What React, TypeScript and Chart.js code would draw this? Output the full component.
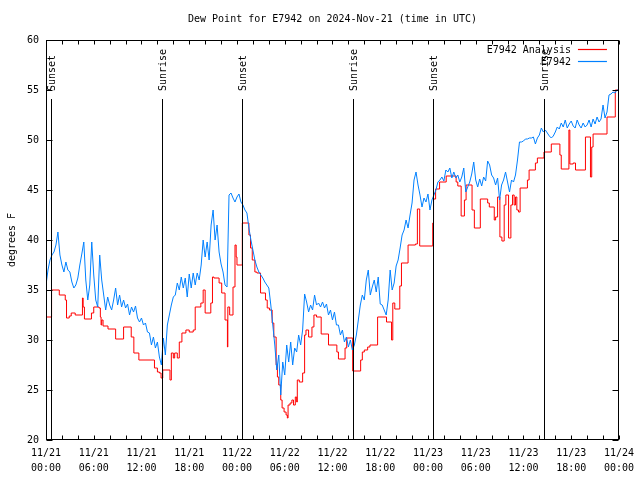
import React, { useEffect, useRef } from 'react';
import { Chart, registerables } from 'chart.js';

Chart.register(...registerables);

const TITLE = 'Dew Point for E7942 on 2024-Nov-21 (time in UTC)';
const Y_TITLE = 'degrees F';
const SERIES_NAMES = ['E7942 Analysis', 'E7942'];
const SERIES_COLORS = ['#ff0000', '#0080ff'];
const DAY_LABELS = ['11/21', '11/22', '11/23', '11/24'];
const HOUR_LABELS = ['00:00', '06:00', '12:00', '18:00'];
const X_MIN_H = 0;
const X_MAX_H = 72;
const X_TICK_STEP_H = 2;
const X_LABEL_STEP_H = 6;
const Y_MIN = 20;
const Y_MAX = 60;
const Y_STEP = 5;

// sunrise / sunset markers (hours since 11/21 00:00 UTC)
const EVENT_HOURS = [0.65, 14.52, 24.67, 38.54, 48.68, 62.52];
const EVENT_LABELS = ['Sunset', 'Sunrise', 'Sunset', 'Sunrise', 'Sunset', 'Sunrise'];

// analysis series: [hour, value] step points (value holds until next point)
const ANALYSIS_STEPS: [number, number][] = [
  [0, 32.3], [0.7, 35.0], [1.67, 34.5], [2.42, 34.0], [2.58, 32.2], [2.92, 32.4], [3.17, 32.7], [3.67, 32.5],
  [4.58, 34.2], [4.67, 33.3], [4.83, 32.1], [5.71, 32.7], [6.0, 33.3], [6.67, 33.2], [6.83, 32.3], [6.92, 31.5],
  [7.0, 32.0], [7.17, 31.4], [7.79, 31.1], [8.75, 30.1], [9.75, 31.3], [10.71, 30.3], [11.04, 28.7], [11.67, 28.0],
  [13.63, 27.2], [14.0, 26.8], [14.25, 26.7], [14.46, 26.2], [14.67, 27.0], [15.58, 26.0], [15.75, 28.7], [16.0, 28.2],
  [16.17, 28.7], [16.5, 28.2], [16.75, 29.8], [17.08, 30.7], [17.58, 31.0], [18.0, 30.8], [18.5, 31.0], [18.75, 33.3],
  [19.46, 33.7], [19.75, 35.0], [20.0, 32.7], [20.71, 33.7], [20.92, 36.3], [21.1, 36.2], [21.75, 35.7], [22.08, 34.7],
  [22.5, 32.0], [22.8, 29.3], [22.85, 33.3], [23.08, 32.5], [23.5, 35.3], [23.75, 39.5], [23.9, 38.3], [24.0, 37.5],
  [24.67, 41.7], [25.5, 40.5], [25.7, 39.2], [25.92, 38.0], [26.25, 36.8], [26.5, 36.7], [26.96, 34.7], [27.58, 34.0],
  [27.8, 33.2], [28.08, 33.0], [28.42, 31.7], [28.63, 30.3], [28.92, 27.5], [29.08, 26.3], [29.25, 25.5], [29.5, 24.0],
  [29.67, 23.2], [29.92, 22.8], [30.17, 22.5], [30.33, 22.2], [30.42, 23.5], [30.67, 23.7], [30.9, 24.0], [31.1, 23.5],
  [31.33, 24.3], [31.5, 23.8], [31.58, 26.0], [31.83, 25.8], [32.25, 26.7], [32.5, 30.5], [32.67, 31.0], [33.0, 30.3],
  [33.42, 31.3], [33.67, 32.5], [34.0, 32.3], [34.58, 30.6], [35.5, 29.5], [36.55, 28.8], [36.75, 28.1], [37.58, 29.2],
  [37.79, 30.2], [38.54, 26.9], [39.54, 28.0], [39.75, 28.8], [40.0, 29.0], [40.42, 29.3], [40.71, 29.5], [41.67, 32.3],
  [42.79, 31.8], [43.42, 30.0], [43.58, 33.7], [43.83, 33.1], [44.46, 35.4], [44.67, 37.7], [45.5, 39.5], [46.42, 39.6],
  [46.67, 43.1], [46.96, 39.4], [48.6, 41.7], [48.7, 44.1], [48.96, 45.1], [49.46, 45.8], [50.29, 46.4], [51.54, 45.8],
  [51.75, 45.4], [52.17, 42.4], [52.58, 44.0], [52.79, 45.5], [53.54, 43.0], [53.83, 41.2], [54.58, 44.1], [55.5, 43.7],
  [55.71, 43.3], [56.33, 42.0], [56.5, 42.3], [56.75, 44.3], [57.04, 40.3], [57.29, 39.9], [57.58, 43.5], [57.79, 44.5],
  [58.13, 40.2], [58.42, 43.5], [58.63, 44.5], [58.83, 43.5], [59.0, 44.3], [59.17, 43.0], [59.38, 42.8], [59.58, 45.2],
  [60.5, 46.0], [60.71, 47.0], [61.5, 47.7], [61.75, 48.2], [62.58, 48.8], [63.5, 49.6], [64.58, 48.5], [64.75, 47.1],
  [65.71, 51.0], [65.83, 47.6], [66.25, 47.7], [66.54, 47.0], [67.79, 50.3], [68.42, 46.3], [68.58, 49.3], [68.75, 50.6],
  [70.5, 52.3], [71.54, 55.0], [72, 55.0],
];

// observed series: one value every 15 minutes from 11/21 00:00 (4 per row = 1 hour)
const OBS_STEP_H = 0.25;
const OBS_VALUES = [
  35.5, 37.0, 38.0, 38.5, // 0
  38.8, 39.5, 40.8, 38.5,
  37.5, 36.8, 37.8, 37.0,
  36.8, 35.8, 35.2, 35.5,
  36.2, 37.5, 38.6, 39.8,
  36.0, 34.0, 35.5, 39.8,
  36.5, 34.0, 33.3, 38.5, // 6
  36.0, 34.5, 33.0, 34.3,
  33.5, 33.0, 34.0, 35.2,
  33.5, 34.5, 33.3, 34.0,
  33.2, 33.6, 32.5, 33.3,
  32.8, 33.4, 32.2, 31.8,
  32.2, 31.5, 31.7, 30.8, // 12
  30.7, 29.5, 30.3, 29.2,
  29.8, 28.3, 27.5, 30.2,
  28.5, 31.5, 32.5, 33.5,
  34.3, 34.5, 35.7, 35.0,
  36.3, 35.2, 36.2, 34.3,
  36.6, 35.2, 36.7, 35.5, // 18
  36.7, 36.0, 37.5, 40.0,
  38.3, 39.8, 38.0, 41.5,
  43.0, 40.0, 41.5, 38.8,
  37.6, 36.8, 35.5, 35.3,
  44.5, 44.7, 44.2, 43.8,
  44.3, 44.6, 43.8, 43.5, // 24
  43.0, 42.7, 41.2, 40.0,
  39.0, 38.0, 37.3, 36.8,
  36.5, 36.2, 35.8, 35.5,
  35.2, 33.5, 31.5, 29.5,
  27.0, 28.5, 24.5, 27.8,
  26.5, 29.5, 27.8, 29.8, // 30
  27.5, 29.2, 28.8, 30.5,
  29.5, 31.0, 34.6, 33.8,
  32.8, 33.5, 33.0, 34.5,
  33.5, 33.7, 33.3, 33.8,
  33.2, 33.6, 32.5, 33.0,
  32.0, 32.8, 31.5, 31.5, // 36
  30.5, 31.0, 29.8, 30.3,
  29.3, 30.0, 29.0, 29.5,
  30.5, 32.0, 33.5, 34.5,
  34.0, 36.0, 37.0, 34.5,
  35.3, 36.0, 34.8, 36.3,
  33.6, 33.5, 33.0, 32.5, // 42
  34.0, 37.0, 35.0, 35.7,
  37.4, 38.0, 39.2, 40.5,
  41.0, 42.0, 41.2, 42.5,
  43.7, 46.0, 46.8, 45.5,
  44.5, 43.3, 44.2, 43.8,
  44.6, 43.0, 44.0, 44.5, // 48
  45.0, 45.8, 46.0, 46.3,
  45.9, 47.0, 46.8, 47.2,
  46.2, 46.8, 46.2, 46.5,
  45.8, 46.3, 47.2, 44.8,
  45.3, 45.8, 46.6, 47.8,
  46.0, 45.3, 46.1, 45.4, // 54
  46.3, 45.9, 47.9, 47.5,
  46.5, 46.2, 45.5, 46.2,
  44.0, 45.5, 46.0, 46.8,
  45.8, 44.8, 46.0, 45.8,
  46.5, 48.0, 49.8, 49.8,
  49.9, 50.1, 50.1, 50.2, // 60
  50.2, 50.3, 49.6, 50.2,
  50.5, 51.2, 50.8, 51.0,
  50.7, 50.4, 50.2, 50.4,
  50.8, 51.3, 51.1, 51.7,
  51.3, 52.0, 51.2, 51.6,
  51.9, 51.4, 51.2, 52.0, // 66
  51.5, 51.2, 51.7, 51.3,
  51.5, 52.0, 51.3, 52.1,
  51.6, 52.3, 51.8, 52.1,
  53.5, 52.2, 52.8, 54.5,
  54.6, 54.8, 54.7, 55.0,
  55.0, // 72
];

const FONT_FAMILY = '"DejaVu Sans Mono", monospace';
const FONT = `10px ${FONT_FAMILY}`;

const decorPlugin = {
  id: 'decor',
  afterDatasetsDraw(chart: any) {
    const { ctx, chartArea: ca, scales } = chart;
    const xs = scales.x;
    const ys = scales.y;
    ctx.save();
    ctx.strokeStyle = '#000';
    ctx.fillStyle = '#000';
    ctx.lineWidth = 1;
    ctx.font = FONT;

    // sunrise / sunset markers
    EVENT_HOURS.forEach((h, i) => {
      const x = Math.round(xs.getPixelForValue(h)) + 0.5;
      ctx.beginPath();
      ctx.moveTo(x, ca.top + 59);
      ctx.lineTo(x, ca.bottom);
      ctx.stroke();
      ctx.save();
      ctx.translate(x + 1, ca.top + 51);
      ctx.rotate(-Math.PI / 2);
      ctx.textAlign = 'left';
      ctx.textBaseline = 'middle';
      ctx.fillText(EVENT_LABELS[i], 0, 0);
      ctx.restore();
    });

    // frame
    const l = Math.round(ca.left) + 0.5;
    const r = Math.round(ca.right) - 0.5;
    const t = Math.round(ca.top) + 0.5;
    const b = Math.round(ca.bottom) - 0.5;
    ctx.strokeRect(l, t, r - l, b - t);

    // inward ticks
    ctx.beginPath();
    xs.ticks.forEach((tk: any) => {
      const x = Math.round(xs.getPixelForValue(tk.value)) + 0.5;
      ctx.moveTo(x, b);
      ctx.lineTo(x, b - 4);
      ctx.moveTo(x, t);
      ctx.lineTo(x, t + 4);
    });
    ys.ticks.forEach((tk: any) => {
      const y = Math.round(ys.getPixelForValue(tk.value)) + 0.5;
      ctx.moveTo(l, y);
      ctx.lineTo(l + 6, y);
      ctx.moveTo(r, y);
      ctx.lineTo(r - 6, y);
    });
    ctx.stroke();

    // title
    ctx.fillStyle = '#000';
    ctx.textAlign = 'center';
    ctx.textBaseline = 'middle';
    ctx.fillText(TITLE, (ca.left + ca.right) / 2, 19);

    // y axis title
    ctx.save();
    ctx.translate(12, (ca.top + ca.bottom) / 2);
    ctx.rotate(-Math.PI / 2);
    ctx.textAlign = 'center';
    ctx.textBaseline = 'middle';
    ctx.fillText(Y_TITLE, 0, 0);
    ctx.restore();

    // legend
    SERIES_NAMES.forEach((name, i) => {
      const y = Math.round(ca.top + 10 + i * 12);
      ctx.textAlign = 'right';
      ctx.textBaseline = 'middle';
      ctx.fillStyle = '#000';
      ctx.fillText(name, ca.right - 48, y);
      ctx.strokeStyle = SERIES_COLORS[i];
      ctx.lineWidth = 1.2;
      ctx.beginPath();
      ctx.moveTo(ca.right - 41, y - 0.5);
      ctx.lineTo(ca.right - 12, y - 0.5);
      ctx.stroke();
    });
    ctx.restore();
  },
};

export default function App() {
  const canvasRef = useRef<HTMLCanvasElement | null>(null);

  useEffect(() => {
    if (!canvasRef.current) return;
    const analysisData = ANALYSIS_STEPS.map(([h, v]) => ({ x: h, y: v }));
    const obsData = OBS_VALUES.map((v, i) => ({ x: i * OBS_STEP_H, y: v }));

    const chart = new Chart(canvasRef.current, {
      type: 'line',
      data: {
        datasets: [
          {
            label: SERIES_NAMES[0],
            data: analysisData,
            borderColor: SERIES_COLORS[0],
            backgroundColor: SERIES_COLORS[0],
            borderWidth: 1,
            pointRadius: 0,
            stepped: true,
            fill: false,
            order: 1,
          },
          {
            label: SERIES_NAMES[1],
            data: obsData,
            borderColor: SERIES_COLORS[1],
            backgroundColor: SERIES_COLORS[1],
            borderWidth: 1,
            pointRadius: 0,
            tension: 0,
            fill: false,
            order: 0,
          },
        ],
      },
      options: {
        responsive: false,
        animation: false,
        events: [],
        layout: { padding: { top: 40, right: 18, left: 0, bottom: 0 } },
        plugins: {
          legend: { display: false },
          title: { display: false },
          tooltip: { enabled: false },
        },
        scales: {
          x: {
            type: 'linear',
            min: X_MIN_H,
            max: X_MAX_H,
            grid: { display: false, drawTicks: false },
            border: { display: false },
            afterFit: (scale: any) => { scale.height = 40; },
            ticks: {
              stepSize: X_TICK_STEP_H,
              autoSkip: false,
              maxRotation: 0,
              minRotation: 0,
              padding: 6,
              color: '#000',
              font: { family: FONT_FAMILY, size: 10, lineHeight: 1.5 },
              callback: (value: any) => {
                const h = Number(value);
                if (h % X_LABEL_STEP_H !== 0) return '';
                return [DAY_LABELS[Math.floor(h / 24)], HOUR_LABELS[(h % 24) / X_LABEL_STEP_H]];
              },
            },
          },
          y: {
            type: 'linear',
            min: Y_MIN,
            max: Y_MAX,
            grid: { display: false, drawTicks: false },
            border: { display: false },
            afterFit: (scale: any) => { scale.width = 46; },
            ticks: {
              stepSize: Y_STEP,
              padding: 7,
              color: '#000',
              font: { family: FONT_FAMILY, size: 10 },
            },
          },
        },
      },
      plugins: [decorPlugin],
    });
    return () => chart.destroy();
  }, []);

  return (
    <div style={{ position: 'absolute', left: 0, top: 0, width: 640, height: 480, background: '#fff' }}>
      <canvas ref={canvasRef} width={640} height={480} style={{ display: 'block' }} />
    </div>
  );
}
